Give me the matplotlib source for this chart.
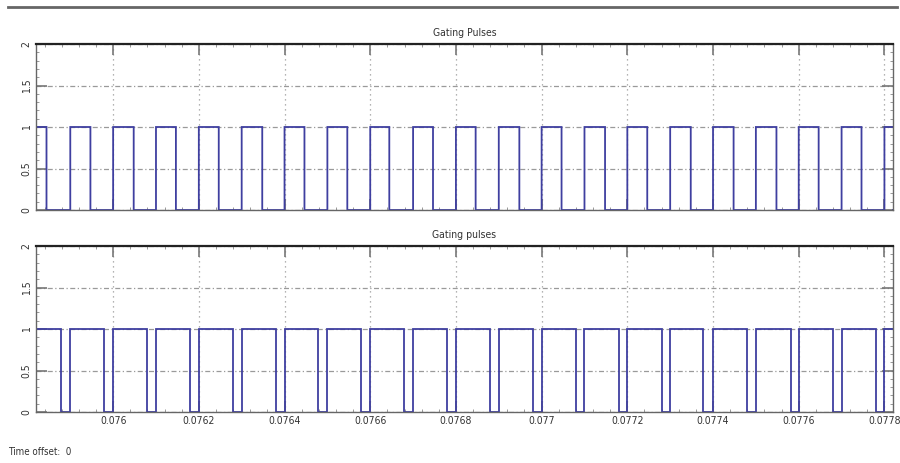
import matplotlib
matplotlib.use("Agg")
import matplotlib.pyplot as plt
from matplotlib.ticker import AutoMinorLocator, FixedLocator
from matplotlib import font_manager
import numpy as np

# ---- data ----
x_limits = [0.07582, 0.07782]
x_ticks = [0.0760, 0.0762, 0.0764, 0.0766, 0.0768, 0.0770, 0.0772, 0.0774, 0.0776, 0.0778]
x_tick_labels = ["0.076", "0.0762", "0.0764", "0.0766", "0.0768", "0.077",
                 "0.0772", "0.0774", "0.0776", "0.0778"]
y_ticks = [0, 0.5, 1, 1.5, 2]
y_tick_labels = ["0", "0.5", "1", "1.5", "2"]

# rising edge times of each switching period (s)
rise_times = [0.0758, 0.0759, 0.0760, 0.0761, 0.0762, 0.0763, 0.0764, 0.0765, 0.0766,
              0.0767, 0.0768, 0.0769, 0.0770, 0.0771, 0.0772, 0.0773, 0.0774, 0.0775,
              0.0776, 0.0777, 0.0778]
# top trace: on-time after each rising edge (microseconds)
top_on_us = [44.5, 47.0, 48.0, 46.5, 46.5, 48.0, 46.5, 46.5, 44.5, 46.5, 46.0,
             48.0, 46.5, 48.0, 46.5, 48.0, 48.0, 48.0, 46.5, 46.5, 46.5]
# bottom trace: off-time before each rising edge (microseconds)
bottom_off_us = [21.0, 21.0, 21.0, 21.0, 21.0, 21.0, 21.0, 21.0, 21.0, 21.0, 21.0,
                 21.0, 19.0, 19.0, 18.5, 19.0, 23.0, 21.0, 18.5, 21.0, 19.0]

title_top = "Gating Pulses"
title_bottom = "Gating pulses"
footer_text = "Time offset:  0"

installed = {f.name for f in font_manager.fontManager.ttflist}
narrow = [n for n in ["Liberation Sans Narrow", "DejaVu Sans Condensed"] if n in installed]
FONT = narrow + ["DejaVu Sans"]
STRETCH = "condensed"
LINE_COLOR = "#3f3fa0"


def top_signal():
    xs, ys = [x_limits[0]], [1.0]
    for r, on in zip(rise_times, top_on_us):
        f = r + on * 1e-6
        xs += [r, r, f, f]
        ys += [0, 1, 1, 0]
    xs.append(x_limits[1])
    ys.append(ys[-1])
    return np.array(xs), np.array(ys)


def bottom_signal():
    xs, ys = [x_limits[0]], [1.0]
    for r, off in zip(rise_times, bottom_off_us):
        f = r - off * 1e-6
        xs += [f, f, r, r]
        ys += [1, 0, 0, 1]
    xs.append(x_limits[1])
    ys.append(1)
    return np.array(xs), np.array(ys)


fig = plt.figure(figsize=(9.0, 4.63), dpi=100)
fig.patch.set_facecolor("white")

ax_w = (893 - 36) / 900
ax_h = 166 / 463
ax1 = fig.add_axes([36 / 900, 1 - 210 / 463, ax_w, ax_h])
ax2 = fig.add_axes([36 / 900, 1 - 412 / 463, ax_w, ax_h])

for ax, (xs, ys), title, show_x in [(ax1, top_signal(), title_top, False),
                                    (ax2, bottom_signal(), title_bottom, True)]:
    ax.plot(xs, ys, color=LINE_COLOR, lw=1.3, solid_joinstyle="miter")
    ax.set_xlim(*x_limits)
    ax.set_ylim(0, 2)
    ax.xaxis.set_major_locator(FixedLocator(x_ticks))
    ax.set_yticks(y_ticks)
    ax.xaxis.set_minor_locator(AutoMinorLocator(5))
    ax.yaxis.set_minor_locator(AutoMinorLocator(5))
    if show_x:
        ax.set_xticklabels(x_tick_labels, fontsize=7.5, family=FONT, stretch=STRETCH,
                           color="#333333")
    else:
        ax.set_xticklabels([])
    ax.set_yticklabels(y_tick_labels, fontsize=7.5, family=FONT, stretch=STRETCH,
                       rotation=90, va="center", color="#333333")
    ax.tick_params(which="major", direction="in", length=8, width=1.2, color="#777777",
                   top=True, right=True, pad=3)
    ax.tick_params(which="minor", direction="in", length=2, width=0.6, color="#888888",
                   top=True, right=True)
    ax.grid(True, which="major", axis="x", color="#9a9a9a", linestyle=(0, (1, 3)), lw=0.9)
    ax.grid(True, which="major", axis="y", color="#9a9a9a", linestyle=(0, (4, 2, 1, 2)), lw=0.9)
    for side in ["bottom", "left", "right"]:
        ax.spines[side].set_color("#666666")
        ax.spines[side].set_linewidth(1.0)
    ax.spines["top"].set_color("#222222")
    ax.spines["top"].set_linewidth(1.6)
    ax.set_title(title, fontsize=7.5, family=FONT, stretch=STRETCH, color="#333333", pad=6)

# horizontal rule at the top of the figure
fig.add_artist(plt.Line2D([8 / 900, 897 / 900], [1 - 7 / 463, 1 - 7 / 463],
                          color="#666666", lw=2.0, transform=fig.transFigure))

fig.text(8 / 900, 1 - 452 / 463, footer_text, fontsize=7, family=FONT, stretch=STRETCH,
         color="#333333", va="center", ha="left")

fig.savefig("out.png", dpi=100, facecolor="white")
